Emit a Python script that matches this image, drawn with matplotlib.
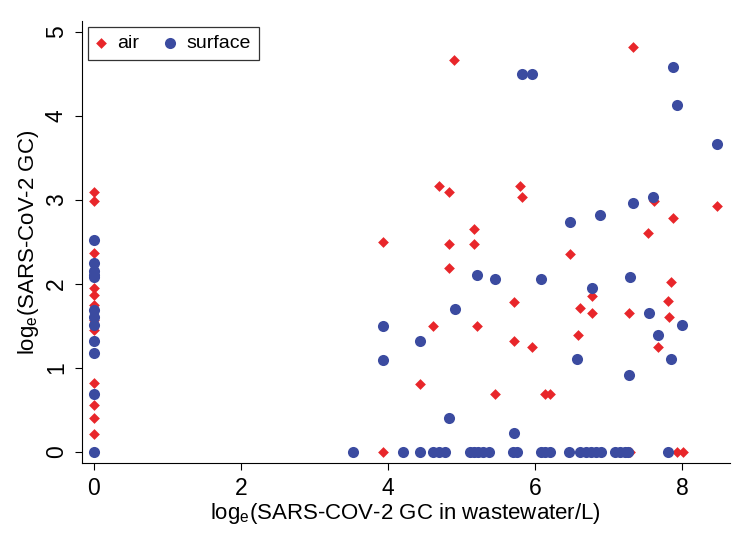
import matplotlib
matplotlib.use('Agg')
import matplotlib.pyplot as plt

plt.rcParams['font.family'] = ['Liberation Sans', 'DejaVu Sans']

# air samples (log wastewater GC, log air GC)
air_x = [0] * 12 + [
    3.94, 3.94, 4.44, 4.62, 4.70, 4.83, 4.83, 4.83, 4.90, 5.17, 5.17, 5.21,
    5.46, 5.71, 5.71, 5.80, 5.82, 5.96, 6.14, 6.20, 6.48, 6.58, 6.62, 6.77,
    6.78, 7.28, 7.30, 7.34, 7.54, 7.62, 7.68, 7.81, 7.82, 7.85, 7.88, 7.93,
    8.01, 8.48]
air_y = [3.09, 2.99, 2.37, 1.95, 1.87, 1.75, 1.57, 1.45, 0.82, 0.56, 0.41, 0.22] + [
    2.50, 0.00, 0.81, 1.50, 3.17, 3.10, 2.48, 2.19, 4.67, 2.65, 2.48, 1.50,
    0.69, 1.79, 1.32, 3.17, 3.03, 1.25, 0.69, 0.69, 2.36, 1.39, 1.71, 1.86,
    1.66, 1.66, 0.00, 4.82, 2.61, 2.99, 1.25, 1.80, 1.61, 2.02, 2.78, 0.00,
    0.00, 2.93]

# surface samples
surf_x = [0] * 12 + [
    3.94, 3.94, 4.44, 4.83, 4.91, 5.21, 5.46, 5.71, 5.82, 5.96, 6.08, 6.48,
    6.57, 6.77, 6.89, 7.28, 7.30, 7.34, 7.55, 7.61, 7.68, 7.85, 7.88, 7.93,
    8.00, 8.48] + [
    3.53, 4.21, 4.44, 4.62, 4.70, 4.78, 5.12, 5.17, 5.23, 5.30, 5.38, 5.70,
    5.75, 6.08, 6.14, 6.20, 6.47, 6.61, 6.69, 6.76, 6.83, 6.90, 7.09, 7.16,
    7.22, 7.27, 7.81]
surf_y = [2.52, 2.25, 2.15, 2.11, 2.08, 1.69, 1.61, 1.51, 1.32, 1.18, 0.69, 0.00] + [
    1.50, 1.10, 1.32, 0.41, 1.70, 2.11, 2.06, 0.23, 4.50, 4.50, 2.06, 2.74,
    1.11, 1.95, 2.82, 0.92, 2.08, 2.96, 1.66, 3.04, 1.39, 1.11, 4.58, 4.13,
    1.51, 3.67] + [0.0] * 27

red = '#E8262A'
blue = '#3B4BA0'

fig = plt.figure(figsize=(7.5, 5.47), dpi=100)
ax = fig.add_axes([0.109, 0.1536, 0.864, 0.808])

ax.scatter(air_x, air_y, marker='D', s=30, color=red, linewidths=0, label='air', zorder=2)
ax.scatter(surf_x, surf_y, marker='o', s=64, color=blue, linewidths=0, label='surface', zorder=3)

ax.set_xlim(-0.163, 8.65)
ax.set_ylim(-0.13, 5.13)
ax.set_xticks([0, 2, 4, 6, 8])
ax.set_yticks([0, 1, 2, 3, 4, 5])
ax.spines['top'].set_visible(False)
ax.spines['right'].set_visible(False)
ax.tick_params(labelsize=16.5, length=5, direction='out', pad=5)
for lbl in ax.get_yticklabels():
    lbl.set_rotation(90)
    lbl.set_va('center')

ax.set_xlabel(r'log$_\mathregular{e}$(SARS-COV-2 GC in wastewater/L)', fontsize=16, labelpad=0.5)
ax.set_ylabel(r'log$_\mathregular{e}$(SARS-CoV-2 GC)', fontsize=16, labelpad=3)

leg = ax.legend(loc='upper left', ncol=2, fontsize=14, frameon=True, fancybox=False,
                edgecolor='black', handletextpad=0.55, columnspacing=1.35,
                borderpad=0.4, handlelength=0.55, borderaxespad=0.3,
                bbox_to_anchor=(0.0, 1.0))
leg.get_frame().set_linewidth(0.9)

plt.savefig('out.png', dpi=100)
plt.close()
